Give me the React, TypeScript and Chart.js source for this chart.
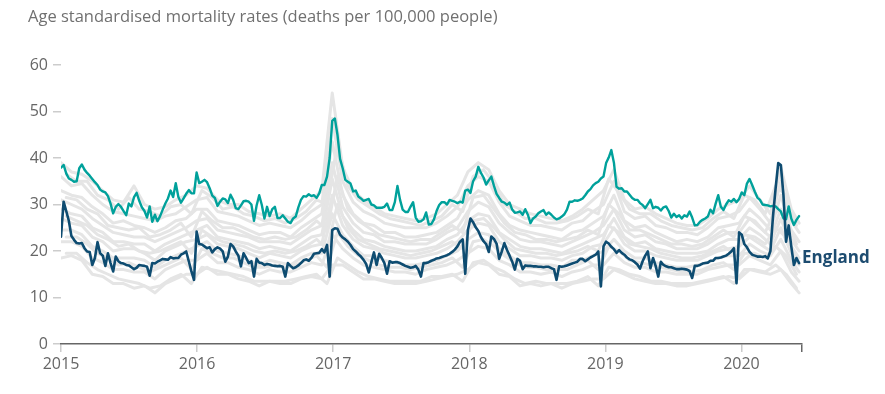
import React, { useEffect, useRef } from "react";
import { Chart, registerables } from "chart.js";

Chart.register(...registerables);

const TITLE = "Age standardised mortality rates (deaths per 100,000 people)";
const ENGLAND_LABEL = "England";
const START_YEAR = 2015;
const WEEK = 7 / 365.25;
const X_MAX = 2020.445;
const YEAR_TICKS = [2015, 2016, 2017, 2018, 2019, 2020];

const ENGLAND_2015 = [23.1, 30.6, 28.6, 26.5, 23.2, 22.4, 21.7, 21.6, 21.7, 20.6, 19.9, 19.8, 17.0, 18.5, 21.9, 19.5, 19.0, 16.8, 19.5, 17.4, 15.6, 18.8, 17.8, 17.4, 17.3, 17.0, 16.9, 16.5, 16.1, 16.4, 17.0, 16.9, 16.8, 16.6, 14.7, 17.4, 17.3, 17.7, 18.0, 18.3, 18.2, 18.1, 18.7, 18.4, 18.5, 18.5, 19.2, 19.5, 19.9, 17.8, 15.6, 13.8];
const ENGLAND_2016 = [24.2, 21.5, 21.4, 21.0, 20.6, 20.8, 19.7, 20.4, 20.8, 20.5, 19.9, 17.7, 18.8, 21.5, 21.0, 19.9, 19.0, 16.7, 19.5, 18.5, 17.4, 17.8, 14.5, 18.3, 17.5, 17.4, 17.0, 17.2, 17.1, 16.9, 16.8, 16.7, 16.8, 16.6, 14.5, 17.4, 16.8, 16.3, 16.5, 16.9, 17.4, 18.0, 18.2, 17.9, 18.5, 19.4, 19.5, 19.6, 20.4, 19.7, 21.3, 14.5];
const ENGLAND_2017 = [24.5, 24.9, 24.8, 23.5, 22.9, 22.5, 22.0, 21.3, 20.4, 19.9, 19.3, 18.8, 18.1, 17.2, 15.4, 17.6, 19.7, 17.0, 19.4, 18.5, 17.4, 15.1, 17.8, 17.5, 17.6, 17.6, 17.4, 17.1, 16.8, 16.6, 16.4, 16.5, 16.8, 16.0, 14.5, 17.4, 17.4, 17.6, 17.9, 18.1, 18.4, 18.5, 18.7, 18.9, 19.1, 19.4, 19.8, 20.3, 21.0, 22.0, 22.5, 15.1];
const ENGLAND_2018 = [24.5, 27.0, 26.2, 25.1, 24.3, 23.0, 22.1, 21.5, 19.8, 23.1, 22.6, 21.6, 18.3, 19.9, 21.7, 20.2, 19.0, 17.7, 16.0, 18.3, 17.9, 16.1, 16.9, 16.8, 16.8, 16.7, 16.7, 16.6, 16.6, 16.5, 16.6, 16.6, 16.3, 16.1, 13.8, 16.7, 16.6, 16.7, 16.9, 17.1, 17.3, 17.5, 17.7, 18.3, 18.3, 17.8, 18.2, 18.6, 18.9, 19.2, 19.9, 12.4];
const ENGLAND_2019 = [21.0, 22.0, 21.6, 20.9, 20.4, 19.6, 20.2, 19.6, 19.2, 18.6, 18.2, 18.0, 17.6, 17.1, 16.2, 17.8, 19.0, 19.9, 16.3, 18.5, 16.8, 14.5, 17.7, 17.0, 16.7, 16.5, 16.5, 16.3, 16.1, 16.1, 16.2, 16.1, 16.0, 15.7, 14.2, 16.8, 16.8, 17.0, 17.3, 17.4, 17.5, 17.9, 17.9, 18.5, 18.5, 18.6, 18.8, 19.0, 19.4, 19.9, 20.6, 13.1];
const ENGLAND_2020 = [24.0, 23.5, 21.5, 20.8, 19.8, 19.2, 19.0, 18.8, 18.8, 18.7, 18.9, 18.4, 20.0, 27.5, 33.5, 38.9, 38.5, 32.0, 22.0, 25.5, 21.0, 17.0, 18.5, 17.4];

const TEAL_2015 = [37.9, 38.5, 36.7, 35.6, 35.3, 34.9, 35.0, 37.8, 38.6, 37.5, 36.8, 36.2, 35.5, 34.8, 34.2, 33.2, 32.8, 32.6, 31.8, 30.2, 28.1, 29.5, 30.1, 29.5, 28.6, 27.7, 30.2, 29.6, 31.6, 32.5, 30.8, 29.4, 28.6, 27.2, 29.6, 26.3, 27.8, 26.4, 27.5, 28.9, 30.2, 31.3, 33.0, 31.6, 34.6, 31.6, 30.4, 31.3, 32.3, 33.1, 32.4, 32.4];
const TEAL_2016 = [36.9, 34.6, 34.9, 35.3, 34.8, 33.5, 31.9, 31.4, 29.7, 30.6, 31.3, 31.1, 30.3, 32.1, 31.0, 29.2, 29.0, 29.8, 30.7, 30.8, 30.6, 30.0, 26.5, 29.8, 32.0, 29.9, 27.0, 29.5, 27.5, 29.0, 29.5, 27.1, 27.1, 27.7, 27.0, 26.3, 26.0, 27.0, 27.4, 29.4, 31.0, 31.8, 31.7, 32.2, 31.8, 32.0, 31.4, 32.4, 34.2, 34.2, 36.0, 40.0];
const TEAL_2017 = [48.0, 48.5, 45.0, 39.8, 37.8, 35.3, 34.9, 34.5, 32.8, 33.0, 31.7, 31.3, 30.8, 31.0, 31.2, 30.0, 29.8, 29.3, 29.3, 29.3, 29.5, 30.2, 28.8, 28.8, 30.5, 34.0, 31.0, 28.9, 28.4, 28.4, 29.5, 30.5, 27.2, 26.3, 26.4, 26.8, 28.3, 25.7, 25.8, 26.8, 28.6, 29.9, 30.5, 30.5, 30.0, 31.0, 30.8, 30.6, 30.3, 30.6, 30.4, 33.0];
const TEAL_2018 = [33.2, 32.5, 35.0, 36.0, 38.1, 36.8, 35.8, 34.3, 35.2, 36.0, 34.0, 32.3, 31.4, 30.6, 30.4, 29.9, 30.4, 28.9, 28.2, 28.3, 28.5, 27.8, 29.0, 27.8, 26.0, 27.0, 27.4, 28.1, 28.5, 28.8, 27.8, 28.3, 27.8, 27.2, 26.8, 27.0, 27.4, 27.9, 28.9, 30.6, 30.6, 30.9, 30.8, 31.0, 31.3, 32.0, 32.8, 33.3, 34.1, 34.6, 34.9, 35.6];
const TEAL_2019 = [36.0, 38.9, 40.1, 41.7, 39.0, 33.8, 33.4, 33.5, 32.8, 32.8, 32.1, 31.4, 31.0, 31.0, 30.3, 29.9, 29.2, 30.1, 31.0, 29.2, 29.5, 29.3, 28.7, 29.4, 29.6, 28.6, 27.2, 28.0, 27.3, 27.7, 27.0, 27.7, 27.4, 28.5, 27.2, 25.5, 25.6, 26.3, 26.7, 27.0, 27.4, 28.9, 28.1, 30.2, 32.0, 29.5, 28.8, 30.0, 30.9, 30.6, 31.2, 30.5];
const TEAL_2020 = [31.2, 32.6, 32.0, 34.5, 35.5, 34.2, 32.8, 31.5, 31.0, 30.0, 29.9, 29.8, 29.6, 29.7, 29.6, 29.0, 28.5, 27.0, 26.8, 29.6, 27.0, 25.6, 26.7, 27.5];

const ENGLAND = [...ENGLAND_2015, ...ENGLAND_2016, ...ENGLAND_2017, ...ENGLAND_2018, ...ENGLAND_2019, ...ENGLAND_2020];
const TEAL = [...TEAL_2015, ...TEAL_2016, ...TEAL_2017, ...TEAL_2018, ...TEAL_2019, ...TEAL_2020];

// other areas, read every four weeks (two interleaved reading schedules)
const GREY_WEEKS_A = [0, 4, 8, 12, 16, 20, 24, 28, 32, 36, 40, 44, 48, 52, 56, 60, 64, 68, 72, 76, 80, 84, 88, 92, 96, 100, 104, 108, 112, 116, 120, 124, 128, 132, 136, 140, 144, 148, 152, 156, 160, 164, 168, 172, 176, 180, 184, 188, 192, 196, 200, 204, 208, 212, 216, 220, 224, 228, 232, 236, 240, 244, 248, 252, 256, 260, 264, 268, 272, 276, 280, 283];
const GREY_WEEKS_B = [2, 6, 10, 14, 18, 22, 26, 30, 34, 38, 42, 46, 50, 54, 58, 62, 66, 70, 74, 78, 82, 86, 90, 94, 98, 102, 106, 110, 114, 118, 122, 126, 130, 134, 138, 142, 146, 150, 154, 158, 162, 166, 170, 174, 178, 182, 186, 190, 194, 198, 202, 206, 210, 214, 218, 222, 226, 230, 234, 238, 242, 246, 250, 254, 258, 262, 266, 270, 274, 278, 282];

const GREY_A1 = [39, 37, 36.5, 35, 33, 31, 30.5, 34, 30, 29, 29.5, 31, 32, 34, 33.5, 31, 30, 30, 28.5, 28, 27.5, 28, 27, 29, 31, 33, 54, 38, 33, 31, 29.5, 28, 27.5, 27, 26.5, 27, 28, 30, 32, 37, 39, 37.5, 33, 30, 29, 28, 27.5, 27, 26.5, 27.5, 29, 31, 33, 37.5, 31, 29, 29.5, 28, 27, 26, 25.5, 25.5, 27, 29, 30, 31, 34, 31, 28, 38, 29, 26];
const GREY_A2 = [36, 34, 34.5, 32, 30, 28.5, 28, 27.5, 27, 26.5, 27.5, 28, 29.5, 31, 31.5, 28.5, 28, 27.5, 26.5, 25.5, 26, 25.5, 25, 26.5, 28.5, 30, 48.5, 35, 30.5, 28.5, 27.5, 26, 25.5, 25, 25, 25, 26, 27.5, 29.5, 34, 36, 35, 30.5, 27.5, 26.5, 25.5, 25.5, 25, 24.5, 26, 26.5, 28.5, 30, 35, 28.5, 27, 27.5, 25.5, 25, 24, 24, 23.5, 25, 27, 27.5, 28.5, 31.5, 29, 26, 35, 26.5, 24];
const GREY_A3 = [33, 32, 31.5, 29.5, 28, 26, 26.5, 25.5, 25, 24, 25, 26.5, 27, 29, 29, 26.5, 26, 25.5, 24.5, 23.5, 24, 24, 23, 25, 26.5, 28, 43.5, 32, 28, 26, 25.5, 24, 24, 23, 23, 23.5, 24, 25.5, 27, 31, 33, 32, 28, 25.5, 24.5, 24, 23.5, 23, 22.5, 24, 24.5, 26, 27.5, 32, 26.5, 25, 25.5, 24, 23, 22, 22.5, 22, 23, 25, 25.5, 26, 29, 27, 24.5, 32, 24.5, 22];
const GREY_A4 = [31, 30, 29, 27, 25.5, 24, 23.5, 23, 23, 22, 23, 24, 25, 26.5, 27, 24.5, 24, 23.5, 23, 22, 22, 22, 21.5, 23, 24.5, 25.5, 39, 29.5, 26, 24, 23.5, 22, 22, 21.5, 21.5, 21.5, 22.5, 24, 25, 28.5, 30.5, 29.5, 26, 24, 22.5, 22, 22, 21.5, 21, 22, 23, 24, 25.5, 29, 24.5, 23, 23.5, 22, 21.5, 20.5, 20.5, 20.5, 21.5, 23, 24, 24, 27, 25, 23, 29, 22.5, 20];
const GREY_A5 = [29, 28, 27.5, 25, 24, 22, 22, 21.5, 21.5, 20, 21.5, 22.5, 23.5, 24.5, 25.5, 23, 22.5, 22, 21.5, 20.5, 21, 20.5, 20, 21.5, 23, 23.5, 35.5, 27.5, 24.5, 22.5, 22, 21, 20.5, 20, 20, 20.5, 21, 22.5, 23.5, 26.5, 28, 27.5, 24, 22.5, 21, 20.5, 20.5, 20, 19.5, 20.5, 21.5, 22.5, 23.5, 27, 23, 21.5, 22, 20.5, 20, 19.5, 19.5, 19.5, 20, 21.5, 22.5, 22.5, 25, 23.5, 21.5, 27, 21, 18.5];
const GREY_A6 = [27, 26, 25.5, 23, 22, 20, 20.5, 20.5, 19.5, 18, 20, 21, 22, 22.5, 23.5, 21.5, 21, 20.5, 19.5, 18.5, 19.5, 19, 18.5, 20, 21, 21.5, 32, 25.5, 22.5, 21, 20.5, 19.5, 19, 18.5, 18.5, 19, 19.5, 20.5, 22, 24.5, 26, 25.5, 22, 20.5, 19, 19, 18.5, 18.5, 18, 19, 19.5, 21, 21.5, 25, 21.5, 20, 20, 19, 18.5, 18, 18, 18, 19, 20, 20.5, 21, 23, 21.5, 20, 25, 19.5, 17];
const GREY_A7 = [24.5, 24.5, 23.5, 21, 20, 18.5, 18.5, 18.5, 18, 16.5, 18, 19, 20, 21, 22, 20, 19.5, 19, 18, 17, 18, 17.5, 17, 18.5, 19.5, 19.5, 28, 23.5, 21, 19, 19, 18, 17.5, 17, 17, 17.5, 18, 19, 20, 22.5, 24, 23.5, 20.5, 19, 17.5, 17.5, 17, 17, 16.5, 18, 18, 19, 20, 22.5, 20, 18.5, 18.5, 17.5, 17, 16.5, 16.5, 17, 17.5, 18.5, 19, 19, 21.5, 20, 19, 22.5, 18, 15.5];
const GREY_A8 = [22, 22, 21, 18.5, 17.5, 16, 16, 15.5, 15.5, 14, 16, 17, 18, 18, 19.5, 17.5, 17.5, 16.5, 16, 15, 16, 15.5, 15.5, 16.5, 17.5, 17, 23.5, 20.5, 18.5, 17, 16.5, 16, 15.5, 15.5, 15, 16, 16.5, 17, 18, 19.5, 21, 20.5, 18, 17, 15.5, 15.5, 15, 15.5, 14.5, 15.5, 16, 17, 17, 19.5, 17.5, 16.5, 16.5, 15.5, 15.5, 15, 15, 15, 16, 16.5, 17, 17, 19, 18, 17, 20, 15.5, 13.5];
const GREY_A9 = [18.5, 19, 18, 15, 14.5, 13, 13, 12, 12.5, 11, 13, 14, 15, 15, 16.5, 15, 15, 14, 13.5, 12.5, 13.5, 13, 13, 14, 14.5, 14, 17, 17, 15.5, 14, 14, 13.5, 13, 13, 13, 13.5, 14, 14.5, 15, 16, 17.5, 17, 15, 14.5, 12.5, 13, 12.5, 13, 12, 13, 13.5, 14, 14, 16, 15, 14, 13.5, 13, 13, 12.5, 12.5, 13, 13.5, 14, 14.5, 14, 16, 15.5, 15, 16, 13, 11];

const GREY_B1 = [36.5, 35, 35, 32, 31, 29, 31.5, 29, 28.5, 27.5, 29.5, 30, 28, 33, 31.5, 29, 29.5, 28, 27.5, 26.5, 27, 26, 27, 28.5, 31, 30, 43, 34, 31, 29.5, 28, 27, 26.5, 26, 25.5, 26.5, 27.5, 30, 28.5, 36, 37.5, 34.5, 30, 28.5, 27, 27, 26, 26, 26.5, 27.5, 29, 28, 35.5, 32.5, 29, 28, 28, 26.5, 25.5, 25, 24.5, 25, 27, 28.5, 27, 32, 31, 28, 34, 32, 25.5];
const GREY_B2 = [31.5, 31, 29, 28, 25.5, 25, 24.5, 25, 23, 23.5, 24.5, 26, 23, 28.5, 26.5, 25, 25, 24, 23, 22.5, 23, 22.5, 23, 24.5, 26.5, 24.5, 36, 29, 26.5, 25, 23.5, 23, 22.5, 22, 22.5, 22.5, 24, 25.5, 24, 31.5, 32, 29, 26, 24, 23.5, 22.5, 22.5, 22, 22.5, 23, 24.5, 23.5, 30, 28, 24.5, 24.5, 23.5, 22.5, 21.5, 21.5, 21, 21.5, 23, 24.5, 23, 27.5, 26.5, 24, 29, 27, 21.5];
const GREY_B3 = [27.5, 26.5, 25.5, 23.5, 22.5, 21, 21.5, 20, 19.5, 20, 21, 22, 19.5, 24.5, 23, 22, 21.5, 21, 20, 19.5, 20, 19.5, 20, 21, 22.5, 20.5, 30, 25, 22.5, 21.5, 20.5, 20, 19.5, 19, 19.5, 20, 21, 22, 20.5, 26.5, 27, 25, 22.5, 20.5, 20, 19.5, 19.5, 19, 19.5, 20, 21, 20, 25.5, 24, 21.5, 21, 20.5, 19.5, 19, 18.5, 18.5, 19, 20, 21, 19.5, 23.5, 23, 21.5, 25, 23, 18.5];
const GREY_B4 = [23, 23, 21.5, 19.5, 18.5, 17, 17.5, 16.5, 15.5, 16.5, 17.5, 18.5, 16, 20.5, 19.5, 18.5, 18.5, 17.5, 16.5, 16.5, 17, 16.5, 17, 18, 19, 16.5, 24, 21, 19, 18, 17, 16.5, 16.5, 16, 16.5, 17, 17.5, 18.5, 16.5, 22, 22.5, 21, 19, 17.5, 16.5, 16.5, 16, 16, 16, 17, 18, 16, 21, 20, 18, 17.5, 17, 16.5, 16, 15.5, 15.5, 16, 17, 17.5, 16, 19.5, 19.5, 18.5, 21, 19, 15];
const GREY_B5 = [19.5, 19.5, 17.5, 16, 15, 14, 13.5, 13, 12, 12.5, 14, 15, 13, 16.5, 16, 15.5, 15, 14.5, 13.5, 13.5, 13.5, 13.5, 14, 14.5, 15, 13, 18.5, 17, 15.5, 14.5, 14, 13.5, 13.5, 13.5, 13.5, 14.5, 14.5, 15, 13.5, 17.5, 18, 16.5, 15.5, 14, 13, 13.5, 13, 13, 13, 13.5, 14.5, 12.5, 16.5, 16, 15, 14.5, 13.5, 13.5, 13, 13, 13, 13.5, 14, 14.5, 13, 16, 16, 15.5, 17, 15, 12];

const GREYS_A = [GREY_A1, GREY_A2, GREY_A3, GREY_A4, GREY_A5, GREY_A6, GREY_A7, GREY_A8, GREY_A9];
const GREYS_B = [GREY_B1, GREY_B2, GREY_B3, GREY_B4, GREY_B5];

const FONT = '"Open Sans", "DejaVu Sans", sans-serif';
const DARK = "#0e4c71";
const TEAL_COLOR = "#00a19b";
const GREY = "#e5e5e5";

function weekly(values: number[]) {
  return values.map((y, i) => ({ x: START_YEAR + i * WEEK, y }));
}
function sampled(values: number[], weeks: number[]) {
  return values.map((y, j) => ({ x: START_YEAR + weeks[j] * WEEK, y }));
}

const textPlugin = {
  id: "textPlugin",
  afterDatasetsDraw(chart: any) {
    const ctx = chart.ctx;
    const meta = chart.getDatasetMeta(0);
    const last = meta.data[meta.data.length - 1];
    ctx.save();
    ctx.font = `bold 17px ${FONT}`;
    ctx.fillStyle = "#1d4c70";
    ctx.textBaseline = "middle";
    ctx.textAlign = "left";
    ctx.fillText(ENGLAND_LABEL, last.x + 3, last.y - 5);
    ctx.font = `16.5px ${FONT}`;
    ctx.fillStyle = "#707070";
    ctx.textBaseline = "alphabetic";
    ctx.fillText(TITLE, 28, 22);
    ctx.restore();
  },
};

export default function App() {
  const ref = useRef<HTMLCanvasElement>(null);
  useEffect(() => {
    const datasets: any[] = [
      { label: "England", data: weekly(ENGLAND), borderColor: DARK, borderWidth: 2.6 },
      { label: "Highest", data: weekly(TEAL), borderColor: TEAL_COLOR, borderWidth: 2.4 },
      ...GREYS_A.map((g, k) => ({ label: `Area A${k + 1}`, data: sampled(g, GREY_WEEKS_A), borderColor: GREY, borderWidth: 3 })),
      ...GREYS_B.map((g, k) => ({ label: `Area B${k + 1}`, data: sampled(g, GREY_WEEKS_B), borderColor: GREY, borderWidth: 3 })),
    ];
    const chart = new Chart(ref.current as HTMLCanvasElement, {
      type: "line",
      data: { datasets },
      plugins: [textPlugin],
      options: {
        responsive: false,
        animation: false,
        devicePixelRatio: 1,
        layout: { padding: { top: 65, right: 83, left: 0, bottom: 0 } },
        elements: { point: { radius: 0 }, line: { tension: 0, borderJoinStyle: "round", borderCapStyle: "round" } },
        plugins: { legend: { display: false }, tooltip: { enabled: false }, title: { display: false } },
        scales: {
          x: {
            type: "linear",
            min: START_YEAR,
            max: X_MAX,
            afterBuildTicks: (scale: any) => {
              scale.ticks = [...YEAR_TICKS, X_MAX].map((v) => ({ value: v }));
            },
            afterFit: (scale: any) => {
              scale.height = 50;
            },
            ticks: {
              autoSkip: false,
              maxRotation: 0,
              padding: 3,
              color: "#666",
              font: { family: FONT, size: 16 },
              callback: (v: any) => (Number.isInteger(v) ? String(v) : ""),
            },
            grid: {
              drawOnChartArea: false,
              drawTicks: true,
              tickLength: 8,
              lineWidth: 1.5,
              color: (c: any) => (c.tick && Number.isInteger(c.tick.value) ? "#cccccc" : "#666666"),
            },
            border: { display: true, color: "#666", width: 1.5 },
          },
          y: {
            min: 0,
            max: 60,
            afterFit: (scale: any) => {
              scale.width = 61;
            },
            ticks: { stepSize: 10, padding: 5, color: "#666", font: { family: FONT, size: 16 } },
            grid: { drawOnChartArea: false, drawTicks: true, tickLength: 8, color: "#cccccc", lineWidth: 1.5 },
            border: { display: false },
          },
        },
      },
    });
    return () => chart.destroy();
  }, []);
  return (
    <div style={{ position: "fixed", left: 0, top: 0, width: 885, height: 394, background: "#fff" }}>
      <canvas ref={ref} width={885} height={394} style={{ display: "block", width: 885, height: 394 }} />
    </div>
  );
}
